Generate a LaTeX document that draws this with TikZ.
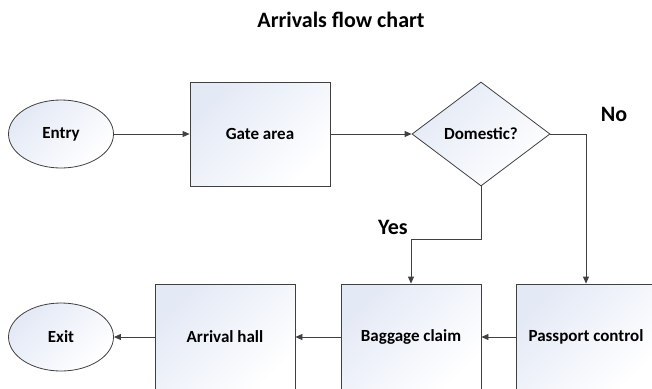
\documentclass[tikz,border=0pt]{standalone}
\usepackage{fontspec}
\setmainfont{Carlito}
\usetikzlibrary{shapes.geometric,arrows.meta}
\definecolor{edgec}{HTML}{404040}
\definecolor{fillc}{HTML}{E3E9F5}
\tikzset{
  x=1pt,y=-1pt,
  shapefill/.style={draw=edgec,line width=0.8pt,top color=fillc,bottom color=white,shading angle=45,font=\fontsize{17}{19}\selectfont\bfseries},
  procbox/.style={shapefill,rectangle,minimum width=140pt,minimum height=104pt,inner sep=0pt},
  termin/.style={shapefill,ellipse,minimum width=105pt,minimum height=68pt,inner sep=0pt},
  decis/.style={shapefill,diamond,minimum width=138pt,minimum height=104pt,inner sep=0pt,aspect=1.33},
  conn/.style={draw=edgec,line width=0.8pt,-{Triangle[length=7pt,width=6pt]}},
  lbl/.style={font=\fontsize{22}{24}\selectfont\bfseries}
}
\begin{document}
\begin{tikzpicture}
\useasboundingbox (0,0) rectangle (652,388);
\node[font=\fontsize{22}{24}\selectfont\bfseries] (title) at (341,20) {Arrivals flow chart};
\node[termin] (entry) at (61,134) {Entry};
\node[procbox] (gate) at (260,134) {Gate area};
\node[decis] (dom) at (481,134) {Domestic?};
\node[procbox,minimum height=106pt] (pass) at (586,337) {Passport control};
\node[procbox,minimum height=106pt] (bag) at (411,337) {Baggage claim};
\node[procbox,minimum height=106pt] (hall) at (225,337) {Arrival hall};
\node[termin] (exit) at (61,337) {Exit};
\node[lbl] (no) at (614,114) {No};
\node[lbl] (yes) at (393,227) {Yes};
\draw[conn] (entry) -- (gate);
\draw[conn] (gate) -- (dom);
\draw[conn] (dom.east) -| (pass.north);
\draw[conn] (dom.south) -- ++(0,53) -| (bag.north);
\draw[conn] (pass) -- (bag);
\draw[conn] (bag) -- (hall);
\draw[conn] (hall) -- (exit);
\end{tikzpicture}
\end{document}
